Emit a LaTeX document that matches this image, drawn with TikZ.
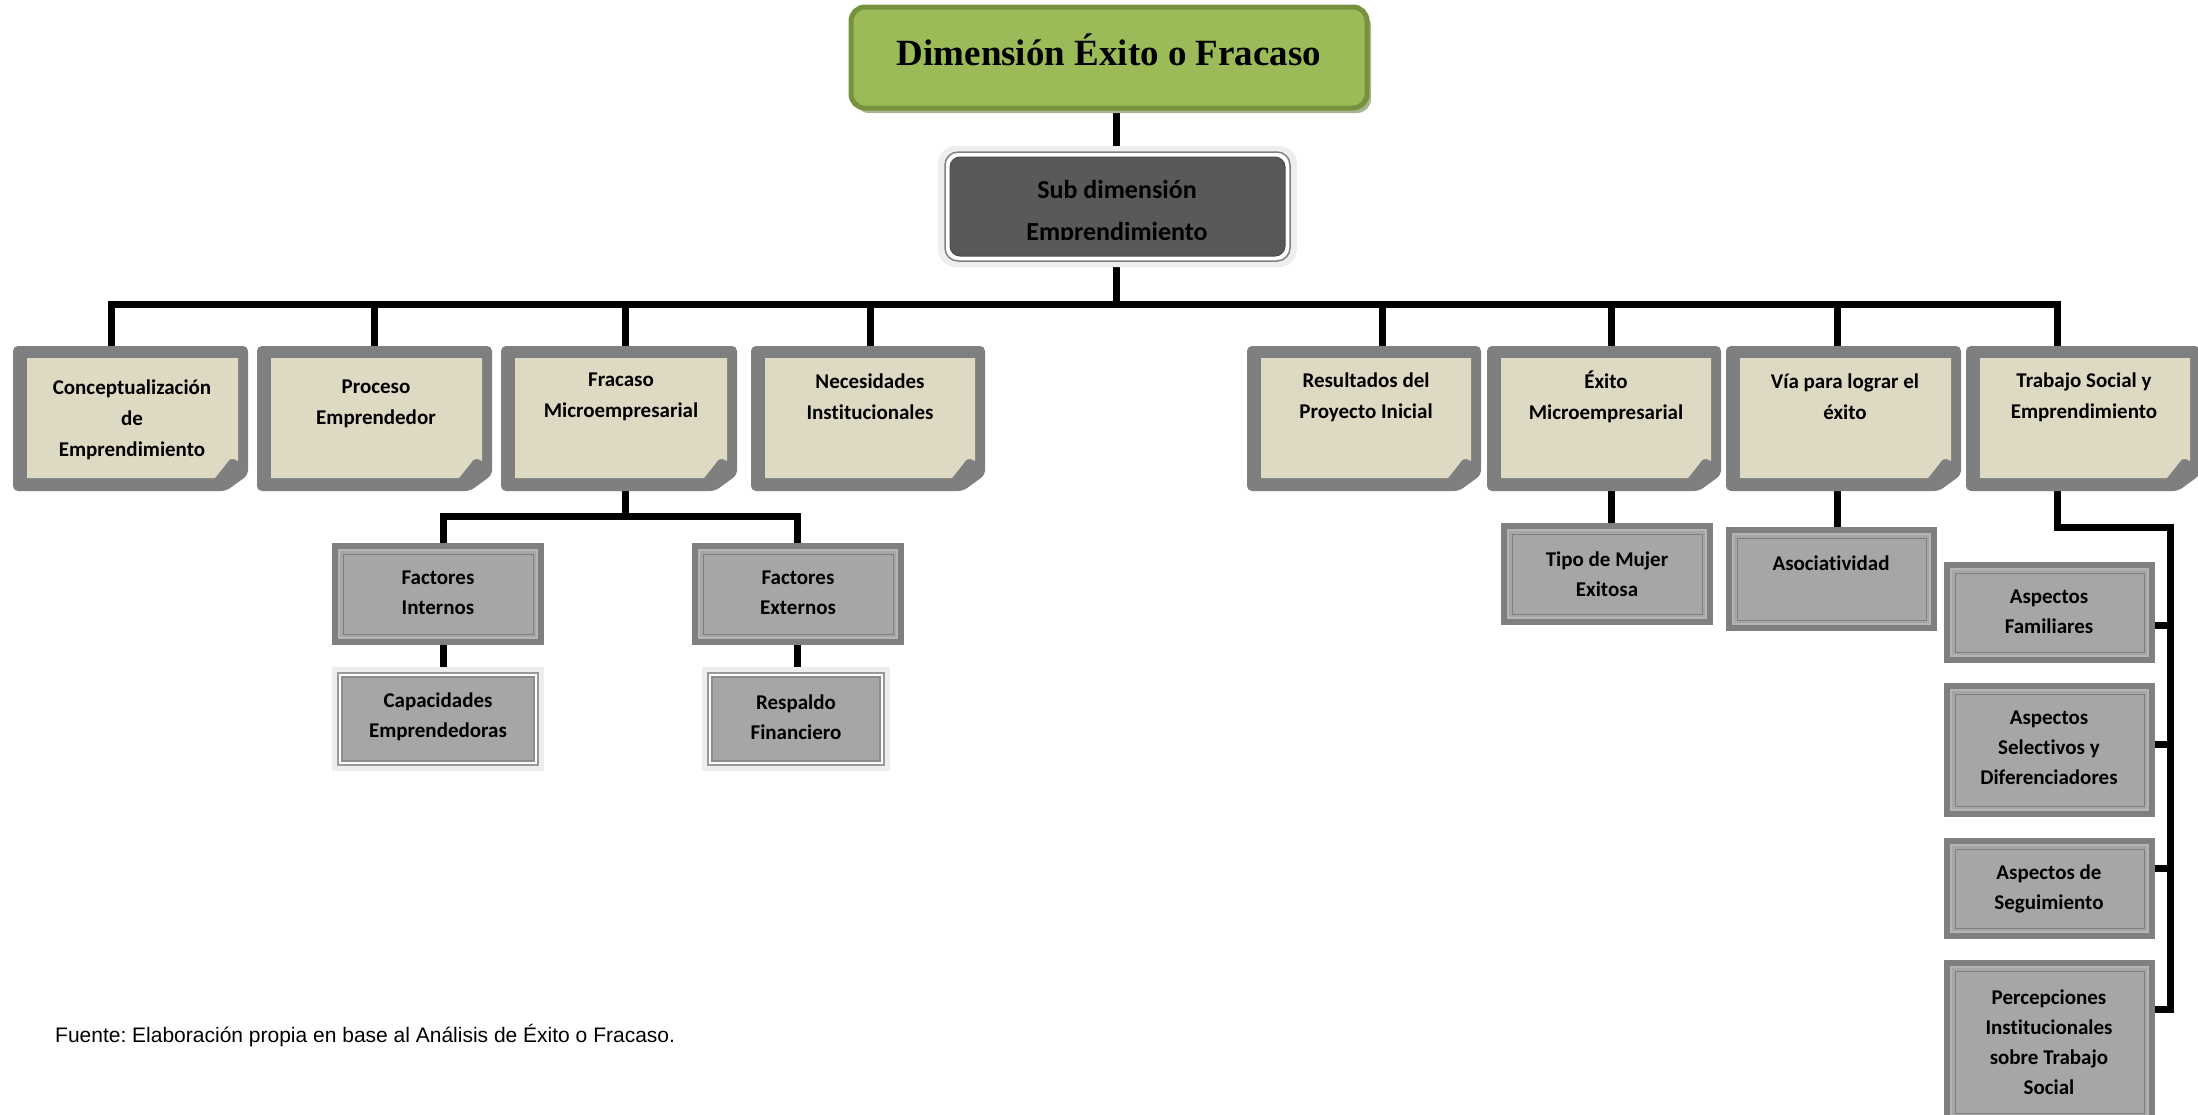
\documentclass[tikz,border=0pt]{standalone}
\usepackage{fontspec}
\setmainfont{Carlito}[Ligatures=NoCommon]
\newfontfamily\titlefont{Liberation Serif}
\newfontfamily\footfont{Liberation Sans}
\usetikzlibrary{calc,backgrounds}
\frenchspacing
\definecolor{notegray}{HTML}{7F7F7F}
\definecolor{notebeige}{HTML}{DDD9C3}
\definecolor{greenfill}{HTML}{9BBB59}
\definecolor{greenline}{HTML}{76923C}
\definecolor{greenshadow}{HTML}{A9B590}
\definecolor{darkfill}{HTML}{595959}
\definecolor{boxdark}{HTML}{7F7F7F}
\definecolor{boxfill}{HTML}{A6A6A6}
\definecolor{boxlight}{HTML}{B4B4B4}
\definecolor{glow}{HTML}{EEEEEE}
\tikzset{
  conn/.style={line width=7pt, draw=black, line join=miter},
  holder/.style={inner sep=0pt, outer sep=0pt},
  notetext/.style={align=center, inner sep=0pt, font=\fontsize{21}{31}\selectfont\bfseries},
  boxtext/.style={align=center, inner sep=0pt, font=\fontsize{21}{30}\selectfont\bfseries},
  subtext/.style={align=center, inner sep=0pt, text=black, font=\fontsize{26}{42}\selectfont\bfseries},
  titletext/.style={inner sep=0pt, font=\titlefont\bfseries\fontsize{37}{40}\selectfont},
  foottext/.style={anchor=west, inner sep=0pt, font=\footfont\fontsize{21}{25}\selectfont}
}
\newcommand{\placebox}[5]{\node[holder, minimum width={#4-#2}, minimum height={#5-#3}] (#1) at ({(#2+#4)/2},{(#3+#5)/2}) {};}
\newcommand{\notebox}[5]{%
  \fill[notegray, rounded corners=5pt] (#2,#3) -- (#4,#3) -- (#4,#5-16) -- (#4-22,#5) -- (#2,#5) -- cycle;
  \fill[notebeige] (#2+14,#3+12) -- (#4-10,#3+12) -- (#4-10,#5-30) .. controls (#4-14,#5-33) and (#4-19,#5-33) .. (#4-21,#5-28) -- (#4-33,#5-13) -- (#2+14,#5-13) -- cycle;
  \placebox{#1}{#2}{#3}{#4}{#5}}
\newcommand{\greybox}[5]{%
  \fill[boxdark] (#2,#3) rectangle (#4,#5);
  \filldraw[fill=boxfill, draw=boxlight, line width=2pt] (#2+7,#3+7) rectangle (#4-7,#5-7);
  \draw[draw=boxdark, line width=1pt] (#2+11,#3+11) rectangle (#4-11,#5-11);
  \placebox{#1}{#2}{#3}{#4}{#5}}
\newcommand{\paleframe}[5]{%
  \fill[glow] (#2,#3) rectangle (#4,#5);
  \filldraw[fill=white, draw=gray!80, line width=1.5pt] (#2+6,#3+6) rectangle (#4-6,#5-6);
  \filldraw[fill=boxfill, draw=gray!90, line width=1.5pt] (#2+10,#3+10) rectangle (#4-10,#5-10);
  \placebox{#1}{#2}{#3}{#4}{#5}}
\begin{document}
\begin{tikzpicture}[x=1pt, y=-1pt]
\useasboundingbox (0,0) rectangle (2198,1114);
\begin{pgfonlayer}{background}
\fill[white] (0,0) rectangle (2198,1114);
\end{pgfonlayer}

% title box
\fill[greenshadow, rounded corners=14pt] (855,12) rectangle (1371,113);
\filldraw[fill=greenfill, draw=greenline, line width=5pt, rounded corners=14pt] (851,7) rectangle (1367,108);
\placebox{title}{851}{7}{1367}{108}
\node[titletext] (titlet) at (1109,50) {Dimensión Éxito o Fracaso};

% sub dimension box
\fill[glow, rounded corners=18pt] (938,146) rectangle (1297,267);
\filldraw[fill=white, draw=gray, line width=1.5pt, rounded corners=13pt] (945,152) rectangle (1290,261);
\filldraw[fill=darkfill, draw=black!70, line width=1pt, rounded corners=10pt] (950,157) rectangle (1285,256);
\placebox{sub}{945}{152}{1290}{261}
\begin{scope}
\clip (950,157) rectangle (1285,239);
\node[subtext] (subt) at (1117,212) {Sub dimensión\\Emprendimiento};
\end{scope}

% top level notes
\notebox{n1}{13}{346}{248}{491}
\notebox{n2}{257}{346}{492}{491}
\notebox{n3}{501}{346}{737}{491}
\notebox{n4}{751}{346}{985}{491}
\notebox{n5}{1247}{346}{1481}{491}
\notebox{n6}{1487}{346}{1721}{491}
\notebox{n7}{1726}{346}{1961}{491}
\notebox{n8}{1966}{346}{2200}{491}
\node[notetext] (n1t) at (132,420) {Conceptualización\\de\\Emprendimiento};
\node[notetext] (n2t) at (376,404) {Proceso\\Emprendedor};
\node[notetext] (n3t) at (621,397) {Fracaso\\Microempresarial};
\node[notetext] (n4t) at (870,397) {Necesidades\\Institucionales};
\node[notetext] (n5t) at (1366,397) {Resultados del\\Proyecto Inicial};
\node[notetext] (n6t) at (1606,397) {Éxito\\Microempresarial};
\node[notetext] (n7t) at (1845,397) {Vía para lograr el\\éxito};
\node[notetext] (n8t) at (2084,397) {Trabajo Social y\\Emprendimiento};

% second level
\greybox{fi}{332}{543}{544}{645}
\greybox{fe}{692}{543}{904}{645}
\paleframe{cap}{332}{667}{544}{771}
\paleframe{resp}{702}{667}{890}{771}
\greybox{tipo}{1501}{523}{1713}{625}
\greybox{asoc}{1726}{527}{1937}{631}
\greybox{af}{1944}{562}{2155}{663}
\greybox{as}{1944}{683}{2155}{817}
\greybox{aseg}{1944}{838}{2155}{939}
\greybox{pi}{1944}{960}{2155}{1124}
\node[boxtext] (fit) at (438,593) {Factores\\Internos};
\node[boxtext] (fet) at (798,593) {Factores\\Externos};
\node[boxtext] (capt) at (438,717) {Capacidades\\Emprendedoras};
\node[boxtext] (respt) at (796,717) {Respaldo\\Financiero};
\node[boxtext] (tipot) at (1607,574) {Tipo de Mujer\\Exitosa};
\node[boxtext] (asoct) at (1831,563) {Asociatividad};
\node[boxtext] (aft) at (2049,612) {Aspectos\\Familiares};
\node[boxtext] (ast) at (2049,748) {Aspectos\\Selectivos y\\Diferenciadores};
\node[boxtext] (asegt) at (2049,889) {Aspectos de\\Seguimiento};
\node[boxtext] (pit) at (2049,1042) {Percepciones\\Institucionales\\sobre Trabajo\\Social};

% footnote
\node[foottext] (src) at (55,1036) {Fuente: Elaboración propia en base al Análisis de Éxito o Fracaso.};

% connectors
\coordinate (spine) at (1116,304);
\coordinate (c1) at (111,304);
\coordinate (c2) at (374,304);
\coordinate (c3) at (625,304);
\coordinate (c4) at (870,304);
\coordinate (c5) at (1382,304);
\coordinate (c6) at (1611,304);
\coordinate (c7) at (1837,304);
\coordinate (c8) at (2057,304);
\coordinate (fl) at (443,516);
\coordinate (fr) at (797,516);
\coordinate (rv) at (2170,527);
\coordinate (t1) at (2170,625);
\coordinate (t2) at (2170,744);
\coordinate (t3) at (2170,868);
\coordinate (t4) at (2170,1009);
\begin{pgfonlayer}{background}
\draw[conn] (title.south -| spine) -- (sub.north -| spine);
\draw[conn] (sub.south -| spine) -- (spine);
\draw[conn, line cap=rect] (c1) -- (c8);
\foreach \i in {1,...,8} {\draw[conn] (c\i) -- (c\i |- n\i.north);}
\draw[conn] (n3.south -| c3) -- (c3 |- fl);
\draw[conn] (fl |- fi.north) -- (fl) -- (fr) -- (fr |- fe.north);
\draw[conn] (fi.south -| fl) -- (cap.north -| fl);
\draw[conn] (fe.south -| fr) -- (resp.north -| fr);
\draw[conn] (n6.south -| c6) -- (tipo.north -| c6);
\draw[conn] (n7.south -| c7) -- (asoc.north -| c7);
\draw[conn] (n8.south -| c8) |- (rv) -- ($(t4)+(0,3.5)$);
\draw[conn] (t1 -| af.east) -- (t1);
\draw[conn] (t2 -| as.east) -- (t2);
\draw[conn] (t3 -| aseg.east) -- (t3);
\draw[conn] (t4 -| pi.east) -- ($(t4)+(3.5,0)$);
\end{pgfonlayer}
\end{tikzpicture}
\end{document}
